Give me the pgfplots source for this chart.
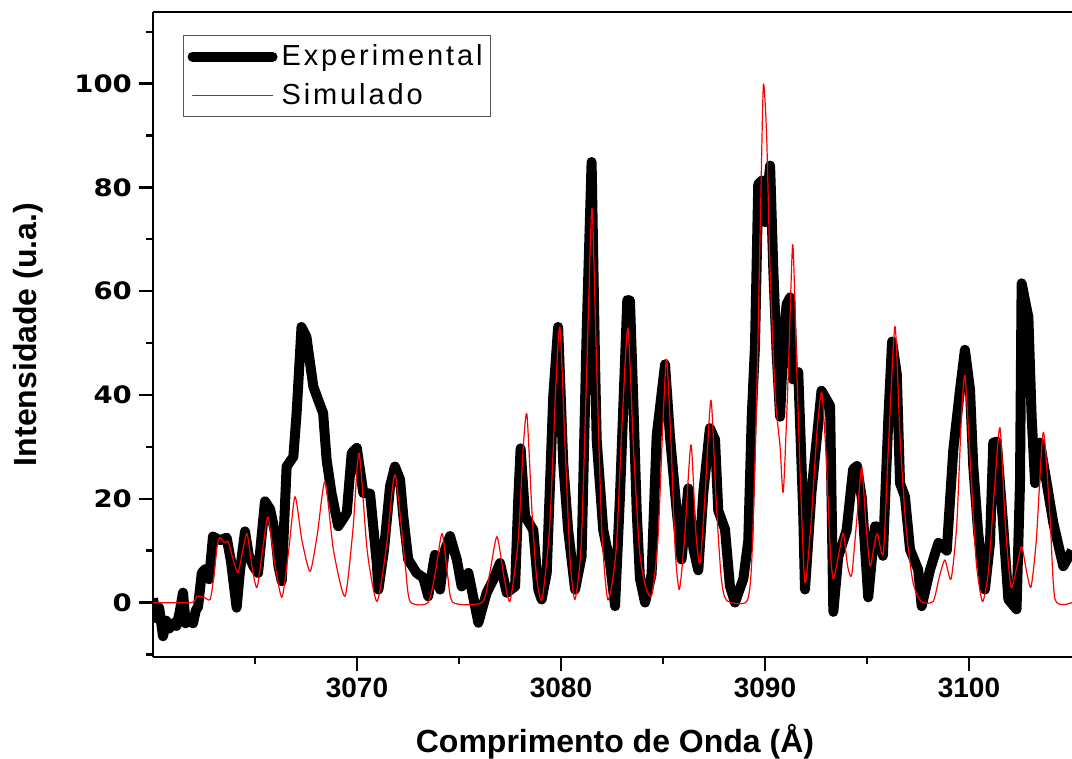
\documentclass[border=0pt]{standalone}
\usepackage{pgfplots}
\pgfplotsset{compat=1.18}
\usepackage{fontspec}
\setmainfont{Liberation Sans}
\newfontfamily\ytfont{DejaVu Sans}[FakeStretch=1.15]

\begin{document}
\begin{tikzpicture}
\begin{axis}[
  width=459.5pt, height=322.5pt, scale only axis,
  xmin=3060, xmax=3105.05, ymin=-10.5, ymax=113.8,
  axis x line=box, axis y line=left,
  axis line style={-, line width=1.2pt},
  xtick={3070,3080,3090,3100}, minor xtick={3065,3075,3085,3095},
  ytick={0,20,40,60,80,100}, minor ytick={-10,10,30,50,70,90,110},
  xtick pos=bottom, ytick pos=left,
  tick align=outside, major tick length=7pt, minor tick length=3.5pt,
  tick style={line width=1.2pt, black},
  /pgf/number format/.cd, 1000 sep={}, assume math mode=true, /pgfplots/.cd,
  xticklabel style={font=\fontsize{14}{14}\selectfont\bfseries},
  yticklabel style={font=\ytfont\bfseries\fontsize{12}{12}\selectfont},
  xlabel={Comprimento de Onda (Å)}, ylabel={Intensidade (u.a.)},
  every axis x label/.style={at={(axis description cs:0.5027,-0.1318)}, anchor=center,
    font=\bfseries\fontsize{16}{16}\selectfont},
  every axis y label/.style={at={(axis description cs:-0.136,0.5)}, anchor=center, rotate=90,
    font=\bfseries\fontsize{16}{16}\selectfont},
  legend style={at={(rel axis cs:0.0326,0.9643)}, anchor=north west,
    draw=gray!70!black, line width=0.6pt, inner xsep=2pt, inner ysep=2.5pt,
    row sep=3.5pt,
    font=\fontsize{14.5}{16}\selectfont\addfontfeature{LetterSpace=10}},
  legend cell align=left,
  legend image code/.code={\draw[#1, line cap=round] (0pt,0pt) -- (40pt,0pt);},
]
\coordinate (sw) at (rel axis cs:0,0);
\coordinate (ne) at (rel axis cs:1,1);

% experimental spectrum
\addplot[black, line width=5pt, line join=round] coordinates {
(3060.00,0.8) (3060.15,-3) (3060.30,-1) (3060.49,-6.5) (3060.65,-3.5) (3060.80,-5)
(3060.98,-4) (3061.15,-4.5) (3061.30,-2) (3061.47,1.9) (3061.60,-4) (3061.80,-3)
(3061.96,-4) (3062.10,-1.5) (3062.21,-0.8) (3062.39,5.7) (3062.55,6.4) (3062.75,4.5)
(3062.94,12.7) (3063.28,12.0) (3063.61,12.5) (3063.82,8) (3064.10,-1.0) (3064.26,6)
(3064.51,13.7) (3064.70,9) (3064.92,7) (3065.15,5.7) (3065.49,19.5) (3065.74,18)
(3065.98,13.5) (3066.15,7) (3066.31,4.1) (3066.55,26.2) (3066.88,28.1) (3067.04,36.5)
(3067.28,53.1) (3067.52,51.2) (3067.70,46.1) (3067.86,41.6) (3068.10,39) (3068.34,36.5)
(3068.51,27.5) (3068.75,21.1) (3069.08,14.7) (3069.30,16) (3069.50,17.3) (3069.74,28.8)
(3069.99,29.8) (3070.31,21.1) (3070.64,21) (3070.97,7.6) (3071.05,2.5) (3071.32,10)
(3071.62,22.4) (3071.86,26.2) (3072.11,23.7) (3072.27,16.6) (3072.51,8.3) (3072.92,5.7)
(3073.25,4.8) (3073.49,1.2) (3073.82,9.2) (3074.07,2.5) (3074.30,10) (3074.56,12.8)
(3074.89,8.3) (3075.13,3.1) (3075.46,5.7) (3075.70,1) (3075.95,-3.9) (3076.15,-1)
(3076.36,1.9) (3076.68,4.4) (3077.01,7.6) (3077.34,1.9) (3077.75,3.1) (3077.91,20.4)
(3078.02,29.7) (3078.24,16.6) (3078.64,14) (3078.89,2.5) (3079.05,0.6) (3079.30,5.7)
(3079.62,39.7) (3079.86,53.1) (3080.11,26.8) (3080.35,14) (3080.69,2.5) (3081.01,8.9)
(3081.26,52.5) (3081.50,84.9) (3081.67,46) (3081.75,31.3) (3082.07,14) (3082.40,7.6)
(3082.65,-0.7) (3082.89,20.4) (3083.25,58.3) (3083.38,58.2) (3083.54,39.4) (3083.71,17.7)
(3083.87,4.6) (3084.12,0) (3084.44,5.4) (3084.69,32.1) (3085.10,45.9) (3085.34,32.1)
(3085.67,17.7) (3085.91,8.3) (3086.24,22) (3086.49,10.4) (3086.73,6.2) (3086.98,21.3)
(3087.30,33.6) (3087.55,31.4) (3087.71,17.7) (3088.04,14.1) (3088.28,3.2) (3088.53,0)
(3088.94,4.6) (3089.18,11.9) (3089.35,35.8) (3089.51,49.5) (3089.67,80.6) (3089.84,81.3)
(3090.00,73.3) (3090.25,84.2) (3090.41,63.9) (3090.57,48.1) (3090.74,35.8) (3090.90,50.2)
(3091.06,57.5) (3091.23,58.8) (3091.38,43) (3091.63,44.4) (3091.87,17.7) (3091.96,2.5)
(3092.28,21.3) (3092.77,40.8) (3093.19,37.9) (3093.35,-1.8) (3093.59,8.8) (3094.00,13.9)
(3094.32,25.7) (3094.51,26.3) (3094.75,20) (3095.06,1) (3095.39,14.7) (3095.64,14.5)
(3095.78,9) (3096.05,35.8) (3096.23,50.3) (3096.46,44) (3096.62,23) (3096.86,20.4)
(3097.11,10.2) (3097.51,6.3) (3097.68,-0.7) (3098.09,6.3) (3098.50,11.5) (3098.91,10)
(3099.23,29.4) (3099.56,41) (3099.80,48.7) (3100.05,41) (3100.21,26.2) (3100.45,13.4)
(3100.78,2.5) (3101.03,11.5) (3101.19,30.8) (3101.36,31) (3101.68,14.7) (3101.93,0.6)
(3102.33,-1.3) (3102.50,23) (3102.58,61.5) (3102.91,55) (3103.07,35.8) (3103.24,23)
(3103.48,30.8) (3103.81,23) (3104.13,15.4) (3104.62,7) (3105.05,10)
};
\addlegendentry{Experimental}

% simulated spectrum
\addplot[red, line width=0.6pt, line join=round, smooth, tension=0.4] coordinates {
(3060.00,0) (3061.90,0) (3062.15,1.2) (3062.50,1.0) (3062.80,0.6) (3062.98,5)
(3063.15,11) (3063.28,12.5) (3063.50,11.5) (3063.68,11.7) (3063.95,8) (3064.17,5.8)
(3064.40,10) (3064.61,13.3) (3064.85,7) (3065.10,2.9) (3065.40,11) (3065.64,16.5)
(3065.95,8) (3066.32,1) (3066.65,10) (3066.96,20.4) (3067.30,12) (3067.70,6)
(3068.05,13) (3068.43,23.3) (3068.85,10) (3069.41,1.2) (3069.80,14) (3070.10,28.8)
(3070.50,10) (3070.98,0.2) (3071.45,11) (3071.86,24.6) (3072.35,7.7) (3072.60,0.2)
(3073.48,0) (3073.85,6) (3074.17,13.3) (3074.45,5) (3074.71,0) (3076.13,0)
(3076.50,5.5) (3076.86,12.7) (3077.20,5) (3077.50,0.3) (3077.90,12) (3078.15,30)
(3078.33,36.2) (3078.58,17.3) (3078.80,5) (3079.07,0.6) (3079.45,15) (3079.75,42)
(3079.95,53) (3080.20,30) (3080.45,8) (3080.69,0.6) (3081.00,12) (3081.30,50)
(3081.52,76) (3081.75,45) (3082.00,14) (3082.30,0.5) (3082.70,10) (3083.00,35)
(3083.28,52.9) (3083.55,30) (3083.85,10) (3084.15,3) (3084.45,1.4) (3084.75,12)
(3085.00,35) (3085.18,46.9) (3085.40,30) (3085.60,10) (3085.80,2.5) (3086.05,12)
(3086.37,30.4) (3086.60,14) (3086.81,7.5) (3087.05,20) (3087.35,39) (3087.60,20)
(3087.85,5) (3088.12,0.4) (3089.10,0.2) (3089.35,8) (3089.59,39.4) (3089.78,75)
(3089.92,99.7) (3090.08,90) (3090.25,64) (3090.50,40) (3090.74,30) (3090.90,21.4)
(3091.15,45) (3091.36,69) (3091.55,46) (3091.75,22) (3091.96,3.8) (3092.25,15)
(3092.55,33) (3092.78,40.5) (3093.00,28) (3093.20,10) (3093.35,4.5) (3093.60,9)
(3093.84,13.3) (3094.05,7) (3094.25,5.3) (3094.50,16) (3094.74,26) (3094.95,15)
(3095.15,7) (3095.35,11) (3095.51,13.3) (3095.80,9.5) (3096.05,30) (3096.37,53.2)
(3096.62,32) (3096.90,15) (3097.25,4) (3097.65,0.2) (3098.24,0.2) (3098.55,5)
(3098.82,8.2) (3099.12,4.5) (3099.40,15) (3099.62,35) (3099.80,43.8) (3100.05,28)
(3100.35,8) (3100.66,0.2) (3100.95,6) (3101.25,22) (3101.52,33.7) (3101.78,15)
(3102.06,3) (3102.35,7) (3102.58,10.8) (3102.82,6) (3103.04,3) (3103.30,12)
(3103.64,32.8) (3103.97,16.6) (3104.22,0.6) (3105.05,0)
};
\addlegendentry{Simulado}
\end{axis}
\pgfresetboundingbox
\path[use as bounding box] ([shift={(-76.5pt,-50.5pt)}]sw) rectangle ([shift={(0pt,6pt)}]ne);
\end{tikzpicture}
\end{document}
